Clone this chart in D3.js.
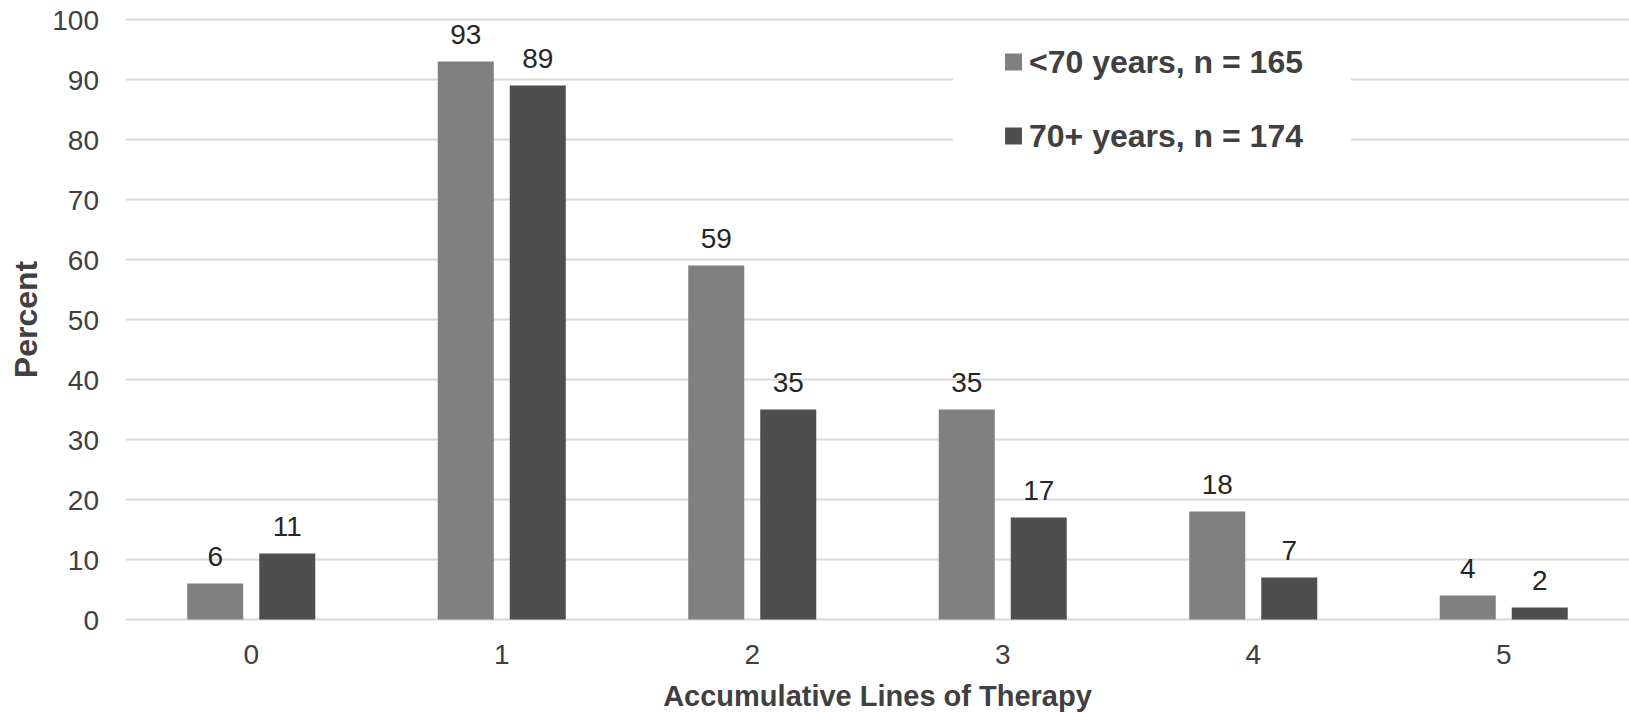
<!DOCTYPE html>
<html>
<head>
<meta charset="utf-8">
<script src="https://cdn.jsdelivr.net/npm/d3@7"></script>
<style>
  html, body { margin: 0; padding: 0; background: #ffffff; }
  svg { display: block; font-family: "Liberation Sans", Arial, sans-serif; }
</style>
</head>
<body>
<svg id="chart" width="1629" height="713"></svg>
<script>
// Accumulative lines of therapy by age group (percent of patients)
const categories = ["0", "1", "2", "3", "4", "5"];
const seriesNames = ["<70 years, n = 165", "70+ years, n = 174"];
const under70 = [6, 93, 59, 35, 18, 4];
const over70 = [11, 89, 35, 17, 7, 2];
const yTicks = [0, 10, 20, 30, 40, 50, 60, 70, 80, 90, 100];
const seriesColors = ["#808080", "#4e4e4e"];

const W = 1629, H = 713;
const margin = { top: 19.5, right: 0, bottom: 93.5, left: 126 };
const svg = d3.select("#chart");
const textColor = "#404040";

const x = d3.scaleBand().domain(categories).range([margin.left, W - margin.right]).paddingInner(0).paddingOuter(0);
const y = d3.scaleLinear().domain([0, 100]).range([H - margin.bottom, margin.top]);

const barW = 56, gap = 16;

// horizontal gridlines
svg.append("g").selectAll("line").data(yTicks).join("line")
  .attr("x1", margin.left).attr("x2", W - margin.right)
  .attr("y1", d => y(d)).attr("y2", d => y(d))
  .attr("stroke", "#d9d9d9").attr("stroke-width", 2);

// y axis tick labels
const yAxis = d3.axisLeft(y).tickValues(yTicks).tickSize(0).tickPadding(0);
const gy = svg.append("g").attr("transform", `translate(${margin.left - 27},0)`).call(yAxis);
gy.select(".domain").remove();
gy.selectAll("text").attr("font-size", 28).attr("fill", textColor)
  .attr("font-family", "Liberation Sans, Arial, sans-serif").attr("dy", "0.35em");

// x axis tick labels
const xAxis = d3.axisBottom(x).tickSize(0).tickPadding(0);
const gx = svg.append("g").attr("transform", `translate(0,${y(0)})`).call(xAxis);
gx.select(".domain").remove();
gx.selectAll("text").attr("font-size", 28).attr("fill", textColor)
  .attr("font-family", "Liberation Sans, Arial, sans-serif").attr("dy", null).attr("y", 44.5);

// bars and value labels
const series = [under70, over70];
series.forEach((vals, si) => {
  const offset = si === 0 ? -gap / 2 - barW : gap / 2;
  const g = svg.append("g");
  g.selectAll("rect").data(vals).join("rect")
    .attr("x", (d, i) => x(categories[i]) + x.bandwidth() / 2 + offset)
    .attr("width", barW)
    .attr("y", d => y(d))
    .attr("height", d => y(0) - y(d))
    .attr("fill", seriesColors[si]);
  g.selectAll("text").data(vals).join("text")
    .attr("x", (d, i) => x(categories[i]) + x.bandwidth() / 2 + offset + barW / 2)
    .attr("y", d => y(d) - 18)
    .attr("text-anchor", "middle")
    .attr("font-size", 28).attr("fill", "#262626")
    .text(d => d);
});

// legend with white backing over the gridlines
const legend = svg.append("g");
legend.append("rect").attr("x", 953).attr("y", 32).attr("width", 398).attr("height", 140).attr("fill", "#ffffff");
seriesNames.forEach((name, i) => {
  const cy = 62 + i * 74;
  legend.append("rect").attr("x", 1005).attr("y", cy - 8.5).attr("width", 17).attr("height", 17).attr("fill", seriesColors[i]);
  legend.append("text").attr("x", 1029).attr("y", cy + 11)
    .attr("font-size", 32).attr("font-weight", "bold").attr("fill", textColor).text(name);
});

// axis titles
svg.append("text").attr("x", (margin.left + W - margin.right) / 2).attr("y", 706)
  .attr("text-anchor", "middle").attr("font-size", 29).attr("font-weight", "bold")
  .attr("fill", textColor).text("Accumulative Lines of Therapy");

svg.append("text").attr("transform", `translate(36.5,${(y(0) + y(100)) / 2}) rotate(-90)`)
  .attr("text-anchor", "middle").attr("font-size", 32).attr("font-weight", "bold")
  .attr("fill", textColor).text("Percent");
</script>
</body>
</html>
